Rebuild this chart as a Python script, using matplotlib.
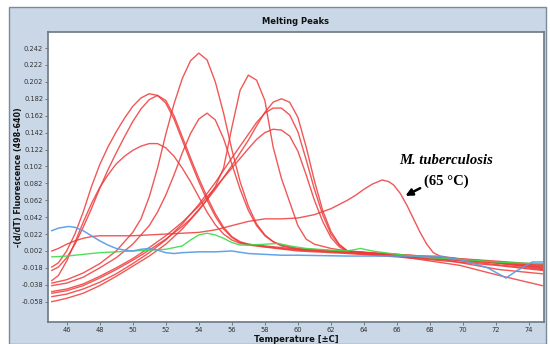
import matplotlib
matplotlib.use("Agg")
import matplotlib.pyplot as plt
from matplotlib import font_manager
from matplotlib.patches import Rectangle

# melting peak curves, waardes
t_a = [45.1, 45.5, 46.0, 46.5, 47.0, 47.5, 48.0, 48.5, 49.0, 49.5, 50.0, 50.5, 51.0, 51.5, 52.0, 52.5, 53.0, 53.5, 54.0, 54.5, 55.0, 55.5, 56.0, 56.5, 57.0, 58.0, 60.0, 63.0, 66.0, 69.0, 72.0, 74.8]
v_a = [-0.017, -0.012, 0.002, 0.022, 0.048, 0.078, 0.104, 0.125, 0.143, 0.159, 0.173, 0.183, 0.188, 0.186, 0.177, 0.158, 0.133, 0.108, 0.084, 0.062, 0.043, 0.028, 0.018, 0.012, 0.010, 0.007, 0.003, 0.000, -0.004, -0.008, -0.012, -0.017]

t_b = [45.1, 45.5, 46.0, 46.5, 47.0, 47.5, 48.0, 48.5, 49.0, 49.5, 50.0, 50.5, 51.0, 51.5, 52.0, 52.5, 53.0, 53.5, 54.0, 54.5, 55.0, 55.5, 56.0, 56.5, 57.0, 58.0, 60.0, 63.0, 66.0, 69.0, 72.0, 74.8]
v_b = [-0.021, -0.017, -0.006, 0.010, 0.030, 0.052, 0.076, 0.098, 0.118, 0.137, 0.155, 0.170, 0.181, 0.186, 0.180, 0.162, 0.137, 0.112, 0.088, 0.066, 0.046, 0.030, 0.019, 0.013, 0.010, 0.008, 0.004, 0.001, -0.003, -0.007, -0.011, -0.015]

t_c = [45.1, 45.5, 46.0, 46.5, 47.0, 47.5, 48.0, 48.5, 49.0, 49.5, 50.0, 50.5, 51.0, 51.5, 52.0, 52.5, 53.0, 53.5, 54.0, 54.5, 55.0, 55.5, 56.0, 56.5, 57.0, 60.0, 63.0, 66.0, 69.0, 72.0, 74.8]
v_c = [-0.033, -0.027, -0.010, 0.012, 0.036, 0.058, 0.077, 0.092, 0.105, 0.114, 0.121, 0.126, 0.129, 0.129, 0.124, 0.114, 0.100, 0.084, 0.066, 0.048, 0.033, 0.022, 0.015, 0.011, 0.009, 0.002, -0.001, -0.005, -0.010, -0.015, -0.021]

t_d = [45.1, 46.0, 47.0, 48.0, 49.0, 50.0, 50.5, 51.0, 51.5, 52.0, 52.5, 53.0, 53.5, 54.0, 54.5, 55.0, 55.5, 56.0, 56.5, 57.0, 57.5, 58.0, 58.5, 59.0, 60.0, 63.0, 66.0, 69.8, 72.2, 74.8]
v_d = [-0.036, -0.032, -0.024, -0.013, 0.002, 0.024, 0.040, 0.066, 0.100, 0.140, 0.176, 0.206, 0.227, 0.236, 0.228, 0.202, 0.165, 0.122, 0.084, 0.055, 0.034, 0.021, 0.013, 0.008, 0.004, 0.000, -0.004, -0.015, -0.027, -0.039]

t_e = [45.1, 46.0, 47.0, 48.0, 49.0, 50.0, 51.0, 51.5, 52.0, 52.5, 53.0, 53.5, 54.0, 54.5, 55.0, 55.5, 56.0, 56.5, 57.0, 57.5, 58.0, 58.5, 59.0, 60.0, 63.0, 66.0, 69.0, 72.0, 74.8]
v_e = [-0.039, -0.036, -0.029, -0.018, -0.006, 0.010, 0.032, 0.048, 0.068, 0.092, 0.118, 0.141, 0.158, 0.165, 0.157, 0.135, 0.105, 0.075, 0.050, 0.032, 0.020, 0.013, 0.009, 0.005, 0.001, -0.003, -0.007, -0.012, -0.019]

t_f = [45.1, 46.0, 47.0, 48.0, 49.0, 50.0, 51.0, 52.0, 53.0, 53.5, 54.0, 54.5, 55.0, 55.5, 56.0, 56.5, 57.0, 57.5, 58.0, 58.5, 59.0, 59.5, 60.0, 60.5, 61.0, 62.0, 63.0, 66.0, 69.0, 72.0, 74.8]
v_f = [-0.048, -0.045, -0.039, -0.030, -0.020, -0.009, 0.003, 0.016, 0.031, 0.040, 0.051, 0.063, 0.078, 0.100, 0.148, 0.192, 0.210, 0.204, 0.180, 0.125, 0.088, 0.060, 0.032, 0.016, 0.010, 0.005, 0.002, -0.002, -0.006, -0.010, -0.014]

t_g = [45.1, 46.0, 47.0, 48.0, 49.0, 50.0, 51.0, 52.0, 53.0, 54.0, 55.0, 56.0, 57.0, 57.5, 58.0, 58.5, 59.0, 59.5, 60.0, 60.5, 61.0, 61.5, 62.0, 62.5, 63.0, 66.0, 69.0, 72.0, 74.8]
v_g = [-0.058, -0.054, -0.048, -0.039, -0.028, -0.016, -0.004, 0.010, 0.028, 0.050, 0.075, 0.103, 0.133, 0.150, 0.166, 0.178, 0.182, 0.178, 0.160, 0.125, 0.085, 0.050, 0.025, 0.010, 0.002, -0.003, -0.008, -0.014, -0.020]

t_h = [45.1, 46.0, 47.0, 48.0, 49.0, 50.0, 51.0, 52.0, 53.0, 54.0, 55.0, 56.0, 57.0, 57.5, 58.0, 58.5, 59.0, 59.5, 60.0, 60.5, 61.0, 61.5, 62.0, 62.5, 63.0, 66.0, 69.0, 72.2, 74.8]
v_h = [-0.052, -0.049, -0.043, -0.035, -0.025, -0.013, 0.000, 0.015, 0.034, 0.057, 0.083, 0.112, 0.140, 0.154, 0.165, 0.171, 0.171, 0.163, 0.143, 0.110, 0.075, 0.045, 0.022, 0.009, 0.002, -0.004, -0.009, -0.020, -0.025]

t_i = [45.1, 46.0, 47.0, 48.0, 49.0, 50.0, 51.0, 52.0, 53.0, 54.0, 55.0, 56.0, 57.0, 57.5, 58.0, 58.5, 59.0, 59.5, 60.0, 60.5, 61.0, 61.5, 62.0, 62.5, 63.0, 66.0, 69.0, 72.0, 74.8]
v_i = [-0.046, -0.043, -0.037, -0.028, -0.018, -0.007, 0.006, 0.020, 0.036, 0.055, 0.077, 0.100, 0.123, 0.134, 0.142, 0.146, 0.145, 0.138, 0.120, 0.092, 0.062, 0.037, 0.018, 0.007, 0.001, -0.002, -0.006, -0.011, -0.016]

# M. tuberculosis curve (piek bij 65 C)
t_mtb = [45.1, 45.5, 46.0, 46.5, 47.0, 47.5, 48.0, 49.0, 50.0, 51.0, 52.0, 53.0, 54.0, 55.0, 56.0, 57.0, 58.0, 59.0, 60.0, 61.0, 62.0, 63.0, 63.5, 64.0, 64.5, 65.1, 65.5, 65.8, 66.2, 66.6, 67.0, 67.4, 67.8, 68.2, 68.6, 70.0, 72.0, 74.8]
v_mtb = [0.002, 0.005, 0.010, 0.014, 0.017, 0.019, 0.020, 0.020, 0.020, 0.021, 0.022, 0.023, 0.024, 0.027, 0.032, 0.037, 0.040, 0.040, 0.041, 0.045, 0.052, 0.062, 0.068, 0.075, 0.081, 0.086, 0.084, 0.080, 0.070, 0.056, 0.040, 0.024, 0.010, 0.000, -0.004, -0.008, -0.012, -0.018]

t_blue = [45.1, 45.5, 46.1, 46.5, 47.0, 47.5, 48.0, 48.5, 49.0, 49.5, 50.0, 50.5, 51.0, 51.5, 52.0, 52.5, 53.0, 54.0, 55.0, 56.0, 57.0, 58.0, 59.0, 60.0, 63.0, 65.0, 68.5, 70.0, 71.5, 72.6, 73.2, 74.2, 74.8]
v_blue = [0.026, 0.029, 0.031, 0.030, 0.026, 0.020, 0.014, 0.009, 0.005, 0.003, 0.002, 0.004, 0.005, 0.003, 0.000, -0.001, 0.000, 0.001, 0.001, 0.002, -0.001, -0.002, -0.003, -0.003, -0.004, -0.004, -0.004, -0.009, -0.018, -0.030, -0.022, -0.011, -0.011]

t_green = [45.1, 46.0, 47.0, 48.0, 49.0, 50.0, 51.0, 52.0, 52.5, 53.0, 53.5, 54.0, 54.5, 55.0, 55.5, 56.0, 56.5, 57.0, 58.0, 58.8, 59.5, 60.5, 62.0, 63.0, 63.8, 64.5, 66.0, 68.0, 70.0, 72.0, 73.0, 74.8]
v_green = [-0.005, -0.004, -0.002, 0.000, 0.001, 0.002, 0.003, 0.004, 0.006, 0.008, 0.015, 0.021, 0.023, 0.021, 0.017, 0.012, 0.009, 0.009, 0.010, 0.011, 0.008, 0.005, 0.003, 0.002, 0.005, 0.002, -0.002, -0.006, -0.008, -0.011, -0.012, -0.013]

rode_curves = [(t_a, v_a), (t_b, v_b), (t_c, v_c), (t_d, v_d), (t_e, v_e),
               (t_f, v_f), (t_g, v_g), (t_h, v_h), (t_i, v_i), (t_mtb, v_mtb)]

y_ticks = [-0.058, -0.038, -0.018, 0.002, 0.022, 0.042, 0.062, 0.082, 0.102,
           0.122, 0.142, 0.162, 0.182, 0.202, 0.222, 0.242]
x_ticks = list(range(46, 75, 2))

# smal (niet vet) lettertype zoeken voor de as-labels
smal = None
for f in font_manager.fontManager.ttflist:
    gewicht = f.weight if isinstance(f.weight, int) else 400
    smal_genoeg = "Narrow" in f.name or f.stretch in ("condensed", "semi-condensed")
    if smal_genoeg and gewicht <= 400 and f.style == "normal":
        smal = f
        break
if smal is not None:
    tick_fp = font_manager.FontProperties(fname=smal.fname, size=5.3)
else:
    tick_fp = font_manager.FontProperties(family="DejaVu Sans", size=4.8)

W, H = 550, 344
fig = plt.figure(figsize=(W / 100, H / 100), dpi=100)
fig.patch.set_facecolor("white")

# lichtblauw paneel achter de grafiek
paneel = Rectangle((9 / W, 0), 537 / W, 1 - 7 / H, transform=fig.transFigure,
                   facecolor="#c9d7e6", edgecolor="#7d8a98", linewidth=1.0, zorder=-5)
fig.patches.append(paneel)

ax = fig.add_axes([48 / W, 1 - 322 / H, (544 - 48) / W, (322 - 32) / H])
ax.set_zorder(2)
ax.set_facecolor("white")

for t, v in rode_curves:
    ax.plot(t, v, color="#ee3a3a", linewidth=1.0, alpha=0.85)
ax.plot(t_green, v_green, color="#3ddc4a", linewidth=1.0, alpha=0.9)
ax.plot(t_blue, v_blue, color="#5b9fe8", linewidth=1.1, alpha=0.95)

ax.set_xlim(44.87, 74.9)
ax.set_ylim(-0.082, 0.261)

ax.set_yticks(y_ticks)
ax.set_yticklabels([f"{v:.3f}" for v in y_ticks], color="#333333", fontproperties=tick_fp)
ax.set_xticks(x_ticks)
ax.set_xticklabels([str(x) for x in x_ticks], color="#333333", fontproperties=tick_fp)
ax.tick_params(length=2, width=0.6, color="#666666", pad=1.5)
for s in ax.spines.values():
    s.set_color("#6b7784")
    s.set_linewidth(1.2)

fig.text(296 / W, 1 - 22 / H, "Melting Peaks", ha="center", va="center",
         fontsize=6, fontweight="bold", color="#111111")
fig.text(19 / W, 1 - 177 / H, "-(d/dT) Fluorescence (498-640)", ha="center", va="center",
         rotation=90, fontsize=5.8, fontweight="bold", color="#111111")
fig.text(296 / W, 1 - 339 / H, "Temperature [\u00b1C]", ha="center", va="center",
         fontsize=6, fontweight="bold", color="#111111")

ax.text(69.0, 0.1095, "M. tuberculosis", ha="center", va="center", fontsize=10.5,
        family="Liberation Serif", style="italic", fontweight="bold")
ax.text(69.0, 0.0846, "(65 \u00b0C)", ha="center", va="center", fontsize=10.5,
        family="Liberation Serif", fontweight="bold")
ax.annotate("", xy=(66.36, 0.0657), xytext=(67.55, 0.0778),
            arrowprops=dict(arrowstyle="-|>", color="black", lw=1.8, mutation_scale=10))

fig.savefig("out.png", dpi=100)
